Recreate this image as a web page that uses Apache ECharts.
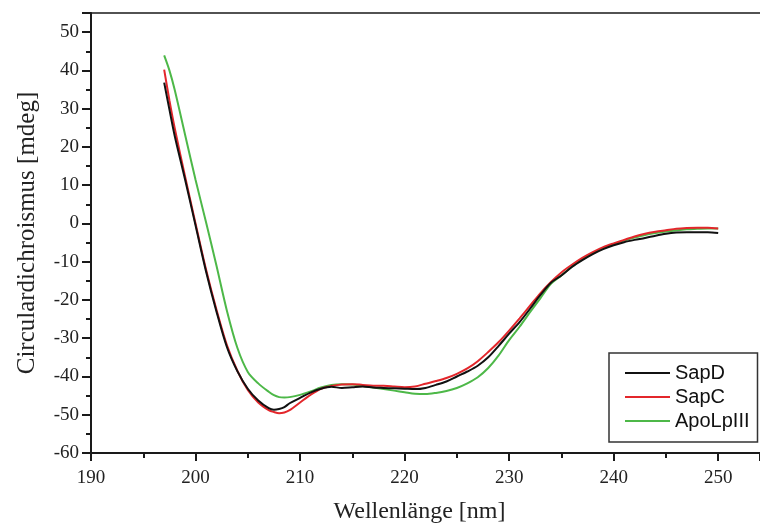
<!DOCTYPE html>
<html>
<head>
<meta charset="utf-8">
<script src="https://cdn.jsdelivr.net/npm/echarts@6/dist/echarts.min.js"></script>
<style>html,body{margin:0;padding:0;background:#fff;}#c{width:760px;height:524px;}</style>
</head>
<body>
<div id="c"></div>
<script>
const wavelengths = [197,197.5,198,199,200,201,202,203,204,205,206,207,207.5,208,208.5,209,210,211,212,213,214,215,216,217,218,219,220,221,222,223,224,225,226,227,228,229,230,231,232,233,234,235,236,237,238,239,240,241,242,243,244,245,246,247,248,249,250];
const sapD = [36.8,29.8,23.0,11.5,-0.5,-12.5,-23,-32.3,-38.6,-43.2,-46.3,-48.3,-48.7,-48.5,-48.0,-47.0,-45.6,-44.2,-43.2,-42.7,-43.0,-42.8,-42.6,-42.9,-43.0,-43.1,-43.2,-43.3,-43.0,-42.2,-41.3,-40.0,-38.7,-37.2,-35.0,-32.0,-28.8,-25.8,-22.3,-18.7,-15.5,-13.6,-11.4,-9.6,-8.0,-6.7,-5.7,-4.9,-4.3,-3.8,-3.2,-2.7,-2.4,-2.3,-2.3,-2.3,-2.5];
const sapC = [40.2,32.2,25.0,12.3,0,-12,-22.5,-31.8,-38.5,-43.5,-46.8,-48.8,-49.3,-49.6,-49.4,-48.8,-46.8,-44.8,-43.2,-42.5,-42.1,-42.0,-42.2,-42.4,-42.4,-42.6,-42.8,-42.6,-41.9,-41.2,-40.4,-39.3,-37.9,-36.0,-33.6,-31.0,-28.0,-24.8,-21.5,-18.2,-15.3,-12.8,-10.8,-9.0,-7.5,-6.2,-5.2,-4.3,-3.4,-2.7,-2.2,-1.8,-1.4,-1.2,-1.1,-1.1,-1.3];
const apoLpIII = [43.9,40.0,35.0,23.2,11.4,0.4,-11.0,-22.8,-32.5,-38.8,-41.8,-44.0,-44.9,-45.4,-45.5,-45.4,-44.8,-43.9,-42.9,-42.2,-42.0,-42.1,-42.5,-42.9,-43.3,-43.7,-44.1,-44.5,-44.6,-44.3,-43.8,-43.0,-41.8,-40.2,-37.8,-34.5,-30.5,-27.0,-23.2,-19.5,-15.8,-13.6,-11.3,-9.4,-7.8,-6.5,-5.4,-4.5,-3.7,-3.0,-2.5,-2.1,-1.8,-1.5,-1.4,-1.3,-1.3];
const seriesNames = ['SapD','SapC','ApoLpIII'];
const xTitle = 'Wellenlänge [nm]';
const yTitle = 'Circulardichroismus [mdeg]';

const pair = (ys) => wavelengths.map((x, i) => [x, ys[i]]);
const colors = ['#111111', '#e3262b', '#4db848'];
const serif = 'Liberation Serif';
const axisColor = '#1a1a1a';

const chart = echarts.init(document.getElementById('c'), null, {renderer: 'canvas'});
chart.setOption({
  animation: false,
  backgroundColor: '#fff',
  grid: {left: 91, right: 0, top: 13, height: 440, outerBoundsMode: 'none', containLabel: false},
  xAxis: [{
    type: 'value', min: 190, max: 254, interval: 10,
    name: xTitle, nameLocation: 'middle', nameGap: 47,
    nameTextStyle: {fontFamily: serif, fontSize: 24, color: '#222', padding: [0, 12, 0, 0]},
    axisLine: {onZero: false, lineStyle: {color: axisColor, width: 2}},
    axisTick: {length: 8, lineStyle: {color: axisColor, width: 2}},
    minorTick: {show: true, splitNumber: 2, length: 5, lineStyle: {color: axisColor, width: 2}},
    axisLabel: {fontFamily: serif, fontSize: 19, color: '#222', margin: 16, showMaxLabel: false,
      formatter: v => (v <= 250 ? String(v) : '')},
    splitLine: {show: false}
  }, {
    type: 'value', position: 'top', min: 190, max: 254,
    axisLine: {onZero: false, lineStyle: {color: axisColor, width: 1.5}},
    axisTick: {show: false}, axisLabel: {show: false}, splitLine: {show: false}
  }],
  yAxis: {
    type: 'value', min: -60, max: 55, interval: 10,
    name: yTitle, nameLocation: 'middle', nameGap: 51,
    nameTextStyle: {fontFamily: serif, fontSize: 25, color: '#222'},
    axisLine: {onZero: false, lineStyle: {color: axisColor, width: 2}},
    axisTick: {length: 9, lineStyle: {color: axisColor, width: 2}},
    minorTick: {show: true, splitNumber: 2, length: 5, lineStyle: {color: axisColor, width: 2}},
    axisLabel: {fontFamily: serif, fontSize: 19, color: '#222', margin: 12, showMaxLabel: false,
      formatter: v => (v % 10 === 0 ? String(v) : '')},
    splitLine: {show: false}
  },
  legend: {
    orient: 'vertical', left: 609, top: 353,
    padding: [10, 8, 11, 16], itemGap: 4, itemWidth: 45, itemHeight: 2,
    icon: 'rect',
    borderColor: '#333', borderWidth: 1.5, backgroundColor: '#fff',
    textStyle: {fontFamily: 'Liberation Sans', fontSize: 20, color: '#111'},
    data: seriesNames
  },
  series: [sapD, sapC, apoLpIII].map((ys, i) => ({
    name: seriesNames[i], type: 'line', xAxisIndex: 0, data: pair(ys), symbol: 'none', smooth: 0.3,
    lineStyle: {color: colors[i], width: 2}, itemStyle: {color: colors[i]}, z: 5 - i
  }))
});
</script>
</body>
</html>
